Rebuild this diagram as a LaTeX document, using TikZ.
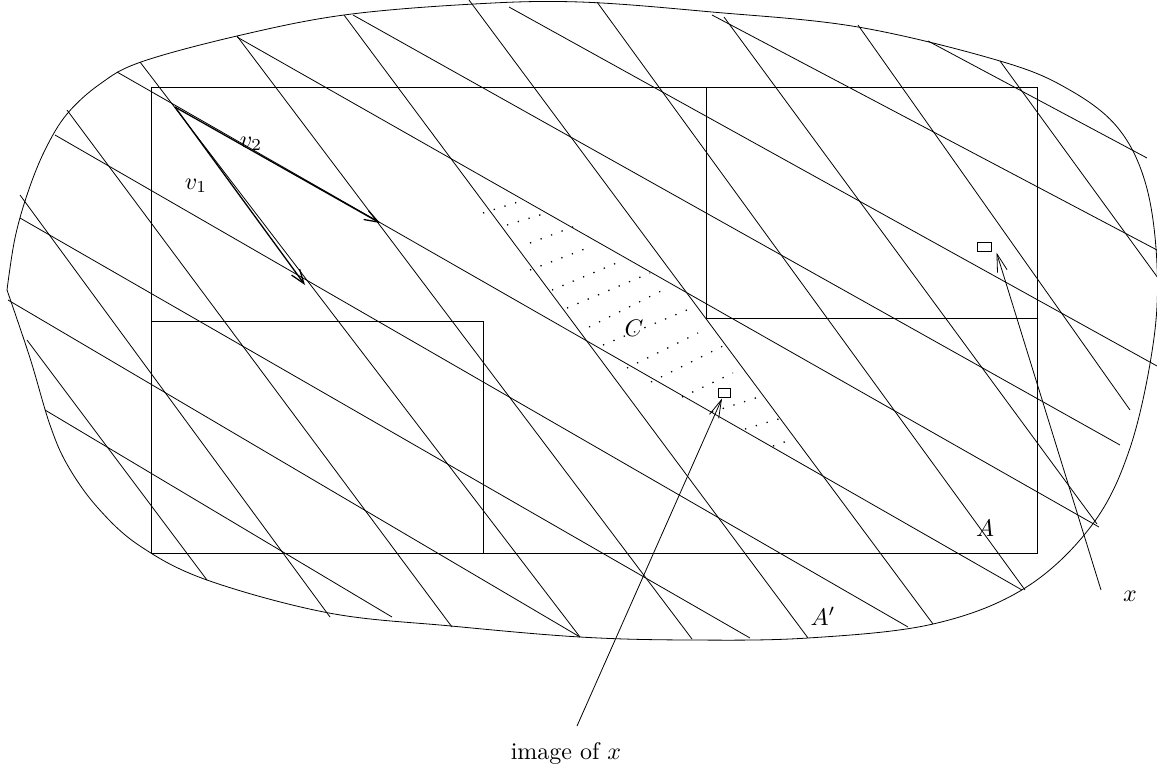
\documentclass[tikz,border=0pt]{standalone}
\usepackage{tikz}
\usetikzlibrary{arrows.meta}

\begin{document}
\begin{tikzpicture}[x=1pt,y=-1pt,
  hatch/.style={line width=0.8pt},
  box/.style={line width=1pt},
  vec/.style={line width=1.3pt,-{Straight Barb[length=14pt,width=10pt]}},
  ptr/.style={line width=0.8pt,-{Straight Barb[length=18pt,width=10pt]}},
  dotrow/.style={line width=1.3pt,dash pattern=on 1.3pt off 9.9pt},
  sq/.style={draw,line width=1pt,minimum width=14pt,minimum height=9pt,inner sep=0pt},
  lbl/.style={scale=2.4}]
\useasboundingbox (0,0) rectangle (1157,772);

% the region A'
\draw[hatch] plot[smooth,tension=0.6] coordinates {(7,290) (15,238) (28,192) (45,150) (67,114) (100,84) (141,62) (237,36) (344,15) (474,4) (580,2) (712,12) (858,27) (1000,61) (1068,89) (1118,128) (1146,185) (1157,265) (1153,345) (1130,448) (1092,525) (1025,588) (933,624) (808,638) (690,640) (580,637) (451,626) (329,613) (207,580) (140,546) (98,508) (68,466) (50,425) (30,358) (7,290)};

% lines along v1
\foreach \xa/\ya/\xb/\yb in {27/340/207/580, 20/195/330/617, 67/110/452/627, 140/62/580/637,
  237/36/692/639, 344/15/808/638, 469/0/933/624, 597/2/1025/590, 724/17/1097/524,
  858/25/1130/410, 1000/61/1158/278}
  \draw[hatch] (\xa,\ya) -- (\xb,\yb);

% lines along v2
\foreach \xa/\ya/\xb/\yb in {45/410/392/617, 8/300/580/637, 20/218/750/638, 55/135/908/627,
  117/72/1022/590, 237/37/1099/527, 353/15/1120/445, 509/7/1157/366, 712/15/1157/250,
  928/41/1147/158}
  \draw[hatch] (\xa,\ya) -- (\xb,\yb);

% the dotted set C
\foreach \xa/\ya/\xb/\yb in {483/213/518/202, 507/225/543/214, 530/243/578/225, 530/270/590/247,
  552/290/619/262, 567/308/650/273, 589/327/663/290, 603/345/687/310, 627/368/698/333,
  651/382/723/346, 682/397/733/373, 712/412/762/396, 745/429/782/418, 773/446/793/439}
  \draw[dotrow] (\xa,\ya) -- (\xb,\yb);

% the rectangles
\draw[box] (151,87) rectangle (1037,553);
\draw[box] (706,87) rectangle (1037,318);
\draw[box] (151,321) rectangle (483,553);

% v1 and v2
\coordinate (o) at (175,107);
\coordinate (v1tip) at (305,285);
\coordinate (v2tip) at (380,223);
\draw[vec] (o) -- (v1tip);
\draw[vec] (o) -- (v2tip);

% the point x and its image
\node[sq] (xpt) at (984,246.5) {};
\node[sq,minimum width=12pt] (ximg) at (724,392.5) {};
\coordinate (xtail) at (1101,590);
\coordinate (imgtail) at (577,726);
\draw[ptr] (xtail) -- ([shift={(5,1)}]xpt.south east);
\draw[ptr] (imgtail) -- ([shift={(-2,1)}]ximg.south);

\node[lbl] (vlab1) at (196,186) {$v_1$};
\node[lbl] (vlab2) at (251,144) {$v_2$};
\node[lbl] (clab) at (634,328) {$C$};
\node[lbl] (alab) at (985,528) {$A$};
\node[lbl] (aplab) at (823,616) {$A'$};
\node[lbl] (xlab) at (1130,596) {$x$};
\node[lbl] (imglab) at (566,754) {image of $x$};
\end{tikzpicture}
\end{document}
